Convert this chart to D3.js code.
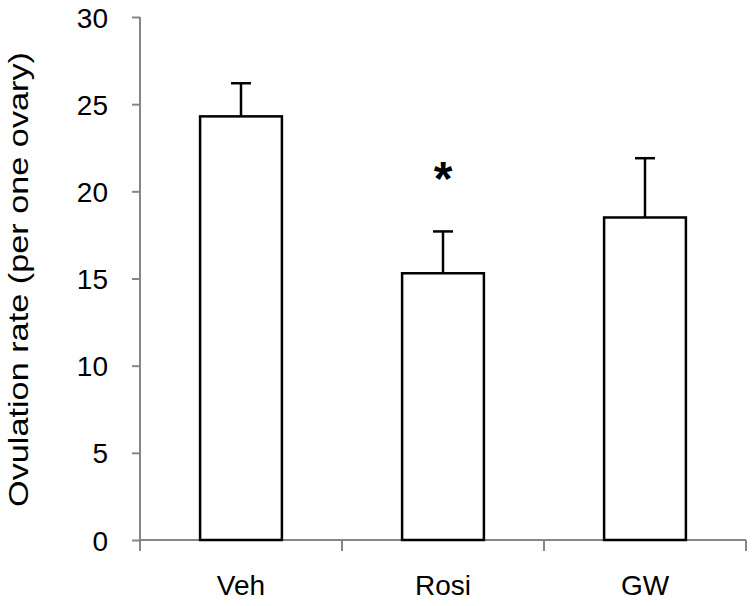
<!DOCTYPE html>
<html>
<head>
<meta charset="utf-8">
<script src="https://cdn.jsdelivr.net/npm/d3@7"></script>
<style>
  body { margin: 0; background: #fff; }
</style>
</head>
<body>
<div id="chart"></div>
<script>
const groups = ["Veh", "Rosi", "GW"];
const means = [24.3, 15.3, 18.5];
const errors = [1.9, 2.4, 3.4];
const significant = [false, true, false];
const yTicks = [0, 5, 10, 15, 20, 25, 30];

const data = groups.map((g, i) => ({
  group: g,
  mean: means[i],
  err: errors[i],
  sig: significant[i]
}));

const width = 756;
const height = 606;
const axisColor = "#868686";
const labelFont = "'Liberation Sans', Arial, sans-serif";

const svg = d3.select("#chart")
  .append("svg")
  .attr("width", width)
  .attr("height", height);

const xScale = d3.scaleBand()
  .domain(groups)
  .range([140, 746])
  .paddingInner(0.595)
  .paddingOuter(0.2975);

const yScale = d3.scaleLinear()
  .domain([0, 30])
  .range([540, 17]);

// y axis
const yAxis = svg.append("g")
  .attr("transform", "translate(140,0)")
  .call(d3.axisLeft(yScale).tickValues(yTicks).tickSize(8).tickPadding(24));
yAxis.select(".domain").attr("stroke", axisColor).attr("stroke-width", 2)
  .attr("d", `M0,${yScale(30)}V${yScale(0)}`);
yAxis.selectAll(".tick line").attr("stroke", axisColor).attr("stroke-width", 2);
yAxis.selectAll(".tick text")
  .attr("fill", "#000")
  .style("font-family", labelFont)
  .style("font-size", "28px")
  .attr("dy", "0.36em");

// x axis, ticks sit on the band boundaries
const bounds = [140].concat(groups.map(g => xScale(g) + xScale.bandwidth() / 2 + xScale.step() / 2));
const xAxis = svg.append("g").attr("transform", `translate(0,${yScale(0)})`);
xAxis.append("line")
  .attr("x1", 140).attr("x2", 746)
  .attr("stroke", axisColor).attr("stroke-width", 2);
xAxis.selectAll(".xtick")
  .data(bounds)
  .join("line")
  .attr("x1", d => d).attr("x2", d => d)
  .attr("y1", 0).attr("y2", 11)
  .attr("stroke", axisColor).attr("stroke-width", 2);
xAxis.selectAll(".xlabel")
  .data(groups)
  .join("text")
  .attr("x", d => xScale(d) + xScale.bandwidth() / 2)
  .attr("y", 55)
  .attr("text-anchor", "middle")
  .style("font-family", labelFont)
  .style("font-size", "28px")
  .text(d => d);

// error bars (drawn first so bar top covers them)
const errG = svg.append("g");
data.forEach(d => {
  const cx = xScale(d.group) + xScale.bandwidth() / 2;
  errG.append("line")
    .attr("x1", cx).attr("x2", cx)
    .attr("y1", yScale(d.mean)).attr("y2", yScale(d.mean + d.err))
    .attr("stroke", "#000").attr("stroke-width", 2.5);
  errG.append("line")
    .attr("x1", cx - 10).attr("x2", cx + 10)
    .attr("y1", yScale(d.mean + d.err)).attr("y2", yScale(d.mean + d.err))
    .attr("stroke", "#000").attr("stroke-width", 2.5);
});

// bars
svg.append("g")
  .selectAll("rect")
  .data(data)
  .join("rect")
  .attr("x", d => xScale(d.group))
  .attr("y", d => yScale(d.mean))
  .attr("width", xScale.bandwidth())
  .attr("height", d => yScale(0) - yScale(d.mean))
  .attr("fill", "#fff")
  .attr("stroke", "#000")
  .attr("stroke-width", 2.5);

// significance star
svg.append("g")
  .selectAll("text")
  .data(data.filter(d => d.sig))
  .join("text")
  .attr("x", d => xScale(d.group) + xScale.bandwidth() / 2)
  .attr("y", d => yScale(d.mean + d.err) - 36)
  .attr("text-anchor", "middle")
  .style("font-family", labelFont)
  .style("font-weight", "bold")
  .style("font-size", "48px")
  .text("*");

// y title
svg.append("text")
  .attr("transform", `translate(28,${279.5}) rotate(-90)`)
  .attr("text-anchor", "middle")
  .attr("textLength", 455)
  .attr("lengthAdjust", "spacingAndGlyphs")
  .style("font-family", labelFont)
  .style("font-size", "28px")
  .text("Ovulation rate (per one ovary)");
</script>
</body>
</html>
